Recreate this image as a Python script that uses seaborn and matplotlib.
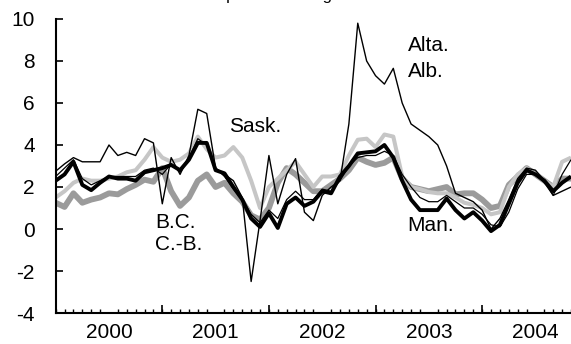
import numpy as np
import matplotlib
matplotlib.use("Agg")
import matplotlib.pyplot as plt
import seaborn as sns

sns.set_theme(style="white")
plt.rcParams["font.family"] = ["Liberation Sans", "DejaVu Sans"]
plt.rcParams["axes.unicode_minus"] = False

# Monthly observations, January 2000 onward (year-over-year % change)
months = np.arange(59)
dates = 2000 + months / 12.0

alberta = [2.75, 3.1, 3.4, 3.2, 3.2, 3.2, 4.0, 3.5, 3.65, 3.5, 4.3, 4.1,
           1.2, 3.4, 2.6, 3.5, 5.7, 5.5, 2.9, 2.6, 2.3, 1.5, -2.5, 0.4,
           3.5, 1.2, 2.6, 3.35, 0.8, 0.4, 1.6, 2.0, 2.3, 5.0, 9.8, 8.0,
           7.3, 6.9, 7.65, 6.0, 5.0, 4.7, 4.4, 4.0, 3.0, 1.7, 1.5, 1.3,
           0.9, 0.0, 0.5, 1.4, 2.4, 2.9, 2.8, 2.3, 1.6, 1.8, 2.0]

canada = [2.5, 2.9, 3.3, 2.4, 2.1, 2.3, 2.5, 2.5, 2.5, 2.5, 2.8, 2.9,
          2.6, 3.1, 2.7, 3.4, 4.3, 4.0, 2.9, 2.5, 1.9, 1.4, 0.7, 0.3,
          0.9, 0.5, 1.4, 1.8, 1.4, 1.4, 1.9, 1.8, 2.3, 3.0, 3.4, 3.5,
          3.5, 3.7, 3.5, 2.6, 2.0, 1.5, 1.3, 1.3, 1.6, 1.3, 1.0, 1.0,
          0.7, 0.2, 0.1, 0.8, 1.9, 2.6, 2.6, 2.2, 1.6, 2.6, 3.3]

manitoba = [2.3, 2.6, 3.2, 2.1, 1.85, 2.2, 2.5, 2.4, 2.4, 2.3, 2.7, 2.8,
            2.9, 3.05, 2.8, 3.3, 4.1, 4.1, 2.8, 2.65, 2.0, 1.4, 0.5, 0.1,
            0.75, 0.05, 1.2, 1.5, 1.1, 1.3, 1.8, 1.7, 2.5, 3.0, 3.6, 3.65,
            3.7, 4.0, 3.4, 2.3, 1.4, 0.9, 0.9, 0.9, 1.45, 0.9, 0.5, 0.8,
            0.4, -0.1, 0.2, 1.2, 2.2, 2.8, 2.6, 2.3, 1.8, 2.2, 2.5]

saskatchewan = [1.5, 1.8, 2.2, 2.4, 2.3, 2.3, 2.4, 2.5, 2.7, 2.8, 3.3, 3.9,
                3.4, 3.2, 3.3, 3.6, 4.4, 3.8, 3.4, 3.5, 3.9, 3.4, 2.3, 1.0,
                2.0, 2.4, 2.8, 3.2, 2.6, 2.0, 2.5, 2.5, 2.6, 3.5, 4.25, 4.3,
                3.9, 4.5, 4.4, 2.5, 2.0, 1.9, 1.76, 1.7, 1.7, 1.5, 1.25, 1.15,
                1.0, 0.7, 0.8, 2.0, 2.6, 2.9, 2.6, 2.3, 2.0, 3.2, 3.4]

british_columbia = [1.25, 1.05, 1.7, 1.25, 1.4, 1.5, 1.7, 1.65, 1.9, 2.1, 2.35, 2.25,
                    2.9, 1.8, 1.1, 1.5, 2.3, 2.6, 2.0, 2.2, 1.7, 1.3, 0.65, 0.45,
                    1.0, 2.2, 2.9, 2.6, 2.2, 1.8, 1.8, 2.1, 2.4, 2.8, 3.4, 3.2,
                    3.05, 3.15, 3.4, 2.4, 2.0, 1.9, 1.8, 1.9, 2.0, 1.65, 1.7, 1.7,
                    1.4, 1.0, 1.1, 2.1, 2.5, 2.9, 2.6, 2.3, 2.0, 2.4, 2.4]

year_labels = ["2000", "2001", "2002", "2003", "2004"]

fig = plt.figure(figsize=(5.71, 3.44), dpi=100)
ax = fig.add_axes([0.0975, 0.0901, 0.9025, 0.8547])

series = [
    (british_columbia, "#9b9b9b", 4.2),
    (saskatchewan, "#c6c6c6", 2.9),
    (manitoba, "black", 2.8),
    (canada, "black", 0.9),
    (alberta, "black", 1.0),
]
for values, color, width in series:
    sns.lineplot(x=dates, y=values, ax=ax, color=color, linewidth=width,
                 legend=False, solid_joinstyle="round", solid_capstyle="butt")

ax.set_xlim(2000, 2000 + 58 / 12.0)
ax.set_ylim(-4, 10)

# y axis
ax.set_yticks(range(-4, 11, 2))
ax.tick_params(axis="y", direction="in", length=5, width=1.2, pad=15,
               labelsize=15, colors="black", left=True)

# x axis: year names centred on each year, monthly minor ticks
ax.set_xticks([2000.5 + i for i in range(len(year_labels))], year_labels)
ax.tick_params(axis="x", which="major", length=0, pad=7, labelsize=15,
               colors="black")
ax.set_xticks(dates, minor=True)
ax.tick_params(axis="x", which="minor", direction="in", length=3, width=1,
               color="black", bottom=True)

# taller ticks at year boundaries
sec = ax.secondary_xaxis("bottom")
sec.set_xticks([2001, 2002, 2003, 2004])
sec.tick_params(direction="in", length=6, width=1.2, labelbottom=False,
                color="black")
sec.spines["bottom"].set_visible(False)

for side in ["top", "right"]:
    ax.spines[side].set_visible(False)
for side in ["left", "bottom"]:
    ax.spines[side].set_color("black")
    ax.spines[side].set_linewidth(1.5)

# series labels
lab = dict(fontsize=15, color="black", va="center", ha="left")
ax.text(2003.30, 8.76, "Alta.", **lab)
ax.text(2003.30, 7.48, "Alb.", **lab)
ax.text(2001.63, 4.86, "Sask.", **lab)
ax.text(2000.93, 0.29, "B.C.", **lab)
ax.text(2000.93, -0.76, "C.-B.", **lab)
ax.text(2003.30, 0.19, "Man.", **lab)

# heading sitting at the top edge
fig.text(151 / 571, 1.0, "12-month percent change", fontsize=12,
         ha="left", va="baseline", color="black")

fig.savefig("out.png", dpi=100)
